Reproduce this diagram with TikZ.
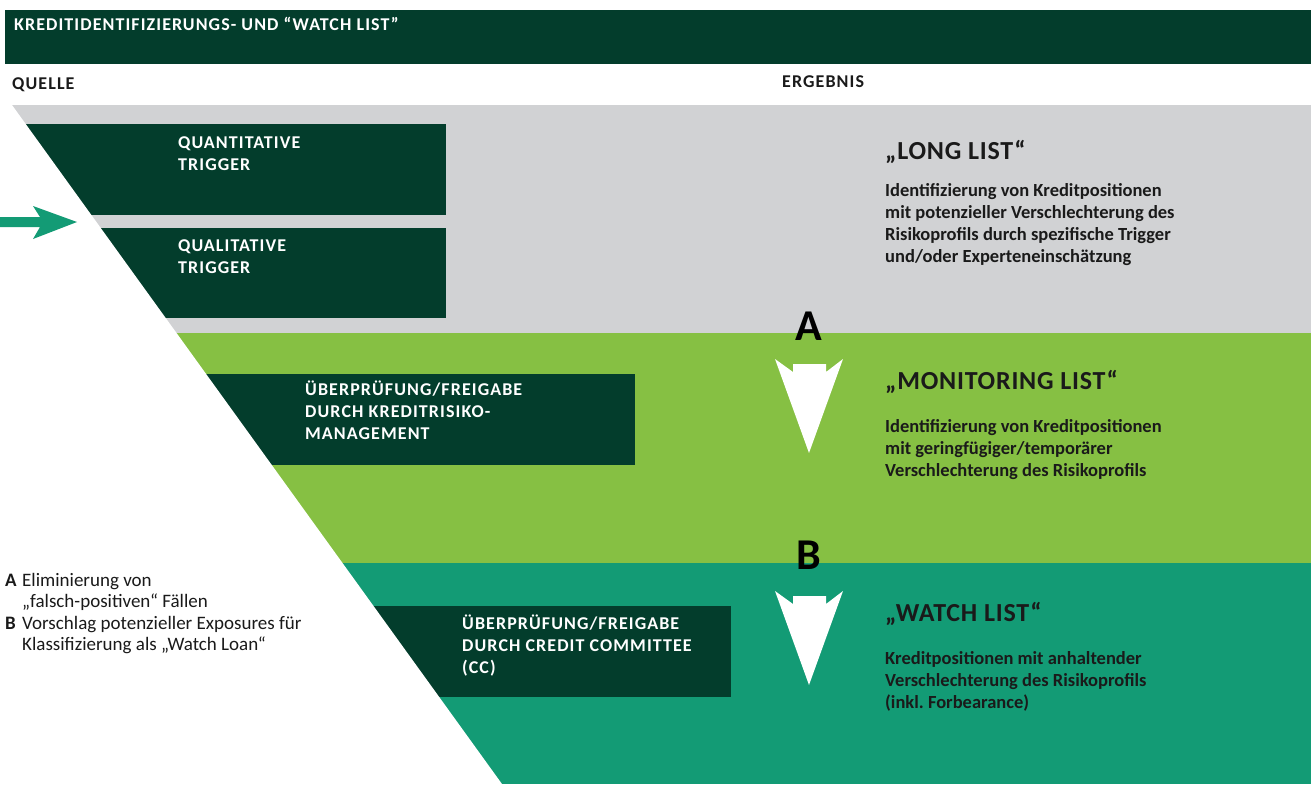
\documentclass[tikz,border=0pt]{standalone}
\usepackage{fontspec}
\setmainfont{Carlito}
\newfontfamily\capsfont[LetterSpace=6]{Carlito}
\newfontfamily\headfont[LetterSpace=3]{Carlito}
\definecolor{boxgreen}{HTML}{033D2C}
\definecolor{listgray}{HTML}{D1D2D4}
\definecolor{listgreen}{HTML}{86C043}
\definecolor{listteal}{HTML}{139B75}
\definecolor{inktext}{HTML}{1A1A1A}
\frenchspacing
\begin{document}
\begin{tikzpicture}[x=1pt, y=-1pt,
    every node/.style={inner sep=0pt, anchor=base west, align=left},
    boxtext/.style={text=white, font=\capsfont\bfseries\fontsize{18}{22}\selectfont},
    coltitle/.style={text=inktext, font=\capsfont\bfseries\fontsize{18}{22}\selectfont},
    listhead/.style={text=inktext, font=\headfont\bfseries\fontsize{26}{30}\selectfont},
    listdesc/.style={text=inktext, font=\bfseries\fontsize{18.5}{22}\selectfont},
    legend/.style={text=inktext, font=\fontsize{19}{21}\selectfont},
    letterlabel/.style={anchor=base, text=black, font=\bfseries\fontsize{44}{44}\selectfont}]
    \useasboundingbox (0,0) rectangle (1311,784);
    % header
    \fill[boxgreen] (5,10) rectangle (1311,64);
    \node[boxtext] (title) at (14,31) {KREDITIDENTIFIZIERUNGS- UND “WATCH LIST”};
    \node[coltitle] (quelle) at (12,89) {QUELLE};
    \node[coltitle] (ergebnis) at (782,88) {ERGEBNIS};
    % bands
    \fill[listgray] (0,105) rectangle (1311,333);
    \fill[listgreen] (0,333) rectangle (1311,563);
    \fill[listteal] (0,563) rectangle (1311,784);
    % source boxes
    \fill[boxgreen] (0,124) rectangle (446,215);
    \fill[boxgreen] (0,228) rectangle (446,318);
    \fill[boxgreen] (0,374) rectangle (635,465);
    \fill[boxgreen] (0,606) rectangle (731,697);
    % white wedge on the left
    \coordinate (w1) at (12,105);
    \coordinate (w2) at (502,784);
    \fill[white] (0,105) -- (w1) -- (w2) -- (0,784) -- cycle;
    % input arrow
    \fill[listteal] (0,217) -- (40,217) -- (33,206) -- (77,222) -- (33,239) -- (40,227) -- (0,227) -- cycle;
    % multi-line nodes sit on their last baseline
    \node[boxtext] (quant) at (178,170) {QUANTITATIVE\\TRIGGER};
    \node[boxtext] (qual) at (178,273) {QUALITATIVE\\TRIGGER};
    \node[boxtext] (krm) at (305,439) {ÜBERPRÜFUNG/FREIGABE\\DURCH KREDITRISIKO-\\MANAGEMENT};
    \node[boxtext] (cc) at (462,673) {ÜBERPRÜFUNG/FREIGABE\\DURCH CREDIT COMMITTEE\\(CC)};
    % results
    \node[listhead] (long) at (885,159) {„LONG LIST“};
    \node[listdesc] (longdesc) at (885,262) {Identifizierung von Kreditpositionen\\mit potenzieller Verschlechterung des\\Risikoprofils durch spezifische Trigger\\und/oder Experteneinschätzung};
    \node[listhead] (monitor) at (885,389) {„MONITORING LIST“};
    \node[listdesc] (monitordesc) at (885,476) {Identifizierung von Kreditpositionen\\mit geringfügiger/temporärer\\Verschlechterung des Risikoprofils};
    \node[listhead] (watch) at (885,621) {„WATCH LIST“};
    \node[listdesc] (watchdesc) at (885,708) {Kreditpositionen mit anhaltender\\Verschlechterung des Risikoprofils\\(inkl. Forbearance)};
    % step arrows A and B
    \foreach \b in {359,591} {
        \fill[white] (775,\b) .. controls (784,\b+7) .. (793,\b+13) -- (793,\b+5) -- (826,\b+5)
            -- (826,\b+13) .. controls (835,\b+7) .. (843,\b) -- (809,\b+94) -- cycle;
    }
    \node[letterlabel] (stepA) at (809,340) {A};
    \node[letterlabel] (stepB) at (809,569) {B};
    % legend
    \node[legend] (legA) at (5,586) {\textbf{A}};
    \node[legend] (legAtext) at (22,607) {Eliminierung von\\„falsch-positiven“ Fällen};
    \node[legend] (legB) at (5,629) {\textbf{B}};
    \node[legend] (legBtext) at (22,650) {Vorschlag potenzieller Exposures für\\Klassifizierung als „Watch Loan“};
\end{tikzpicture}
\end{document}
